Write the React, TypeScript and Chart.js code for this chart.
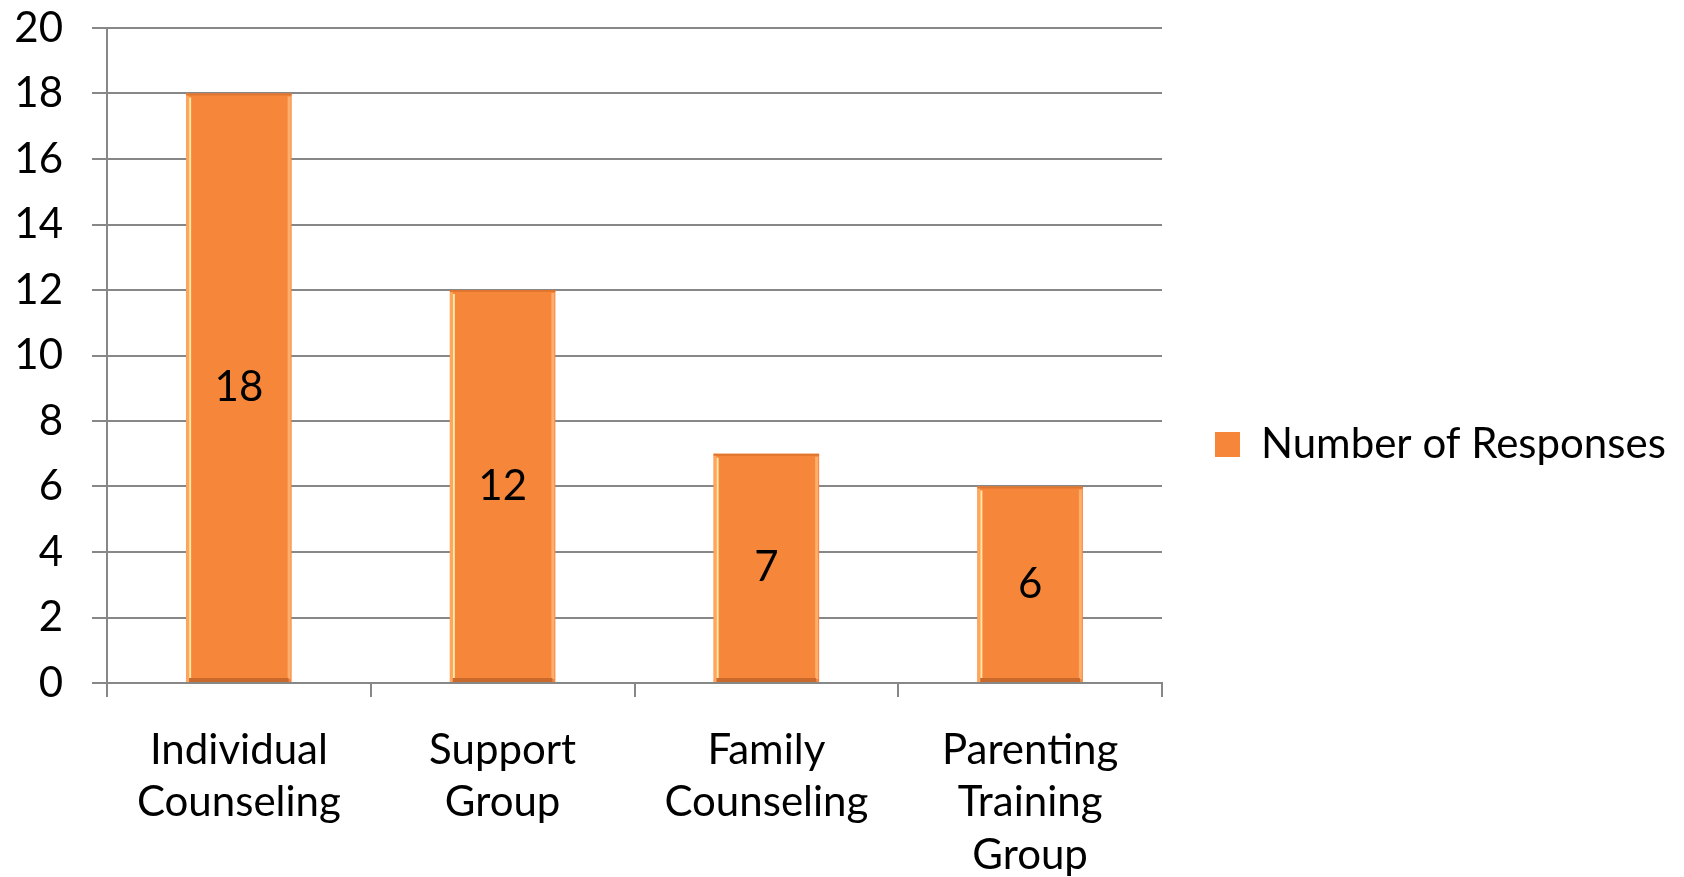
import React, { useEffect, useRef } from "react";
import { Chart, registerables } from "chart.js";

Chart.register(...registerables);

const categories: string[][] = [
  ["Individual", "Counseling"],
  ["Support", "Group"],
  ["Family", "Counseling"],
  ["Parenting", "Training", "Group"],
];
const seriesName = "Number of Responses";
const responses: number[] = [18, 12, 7, 6];
const yMin = 0;
const yMax = 20;
const yStep = 2;

const FONT = "Lato, 'Open Sans', sans-serif";
const FONT_SIZE = 42;
const GRID = "#878787";
const BAR = "#F6873A";

const W = 1684;
const H = 877;
const PLOT_TOP = 28;
const PLOT_RIGHT = 1162;
const LEGEND_PAD = 53;
const LEGEND_BOX = 25;

const barStylePlugin = {
  id: "barStyle",
  afterDatasetsDraw(chart: any) {
    const ctx = chart.ctx;
    chart.data.datasets.forEach((ds: any, di: number) => {
      const meta = chart.getDatasetMeta(di);
      meta.data.forEach((bar: any, i: number) => {
        const { x, y, base, width } = bar.getProps(["x", "y", "base", "width"], true);
        const left = x - width / 2;
        const right = x + width / 2;
        const h = base - y;
        ctx.save();
        ctx.fillStyle = "#FFA55E";
        ctx.fillRect(left, y, 3, h);
        ctx.fillStyle = "#FFE7A6";
        ctx.fillRect(left + 3, y + 4, 2, h - 8);
        ctx.fillStyle = "#FFAE6E";
        ctx.fillRect(right - 4, y + 3, 3, h - 6);
        ctx.fillStyle = "#E0762E";
        ctx.fillRect(left, y, width, 2);
        ctx.fillStyle = "#C9692B";
        ctx.fillRect(left + 3, base - 4, width - 6, 4);
        ctx.fillStyle = "#000000";
        ctx.font = `${FONT_SIZE}px ${FONT}`;
        ctx.textAlign = "center";
        ctx.textBaseline = "middle";
        ctx.fillText(String(ds.data[i]), x, (y + base) / 2);
        ctx.restore();
      });
    });
  },
};

export default function App() {
  const ref = useRef<HTMLCanvasElement | null>(null);

  useEffect(() => {
    if (!ref.current) return;
    const mctx = document.createElement("canvas").getContext("2d") as CanvasRenderingContext2D;
    mctx.font = `${FONT_SIZE}px ${FONT}`;
    const tw = mctx.measureText(seriesName).width;
    const legendWidth = LEGEND_PAD + LEGEND_BOX + FONT_SIZE / 2 + tw + 10;
    const padRight = Math.max(0, W - PLOT_RIGHT - legendWidth);

    const chart = new Chart(ref.current, {
      type: "bar",
      data: {
        labels: categories,
        datasets: [
          {
            label: seriesName,
            data: responses,
            backgroundColor: BAR,
            borderColor: "#D9712F",
            borderWidth: 0,
            categoryPercentage: 1,
            barPercentage: 0.4,
          },
        ],
      },
      options: {
        responsive: false,
        animation: false,
        layout: { padding: { top: 12, bottom: 0, left: 0, right: padRight } },
        plugins: {
          legend: {
            position: "right",
            maxWidth: 700,
            labels: {
              boxWidth: LEGEND_BOX,
              boxHeight: LEGEND_BOX,
              padding: LEGEND_PAD,
              color: "#000000",
              font: { family: FONT, size: FONT_SIZE },
            },
          },
          tooltip: { enabled: false },
        },
        scales: {
          x: {
            afterFit: (scale: any) => {
              scale.height = H - 683;
            },
            grid: {
              offset: true,
              drawOnChartArea: false,
              drawTicks: true,
              tickLength: 14,
              color: GRID,
              lineWidth: 2,
            },
            border: { display: true, color: GRID, width: 2 },
            ticks: {
              color: "#000000",
              padding: 27,
              maxRotation: 0,
              autoSkip: false,
              font: { family: FONT, size: FONT_SIZE, lineHeight: 1.25 },
            },
          },
          y: {
            min: yMin,
            max: yMax,
            afterFit: (scale: any) => {
              scale.width = 107;
              scale.paddingTop = PLOT_TOP;
              scale.paddingBottom = 0;
            },
            grid: {
              color: GRID,
              lineWidth: 2,
              tickLength: 15,
            },
            border: { display: true, color: GRID, width: 2 },
            ticks: {
              stepSize: yStep,
              color: "#000000",
              padding: 29,
              font: { family: FONT, size: FONT_SIZE },
            },
          },
        },
      },
      plugins: [barStylePlugin],
    });
    return () => chart.destroy();
  }, []);

  return (
    <div style={{ position: "fixed", left: 0, top: 0, width: W, height: H, background: "#ffffff" }}>
      <canvas ref={ref} width={W} height={H} style={{ display: "block" }} />
    </div>
  );
}
